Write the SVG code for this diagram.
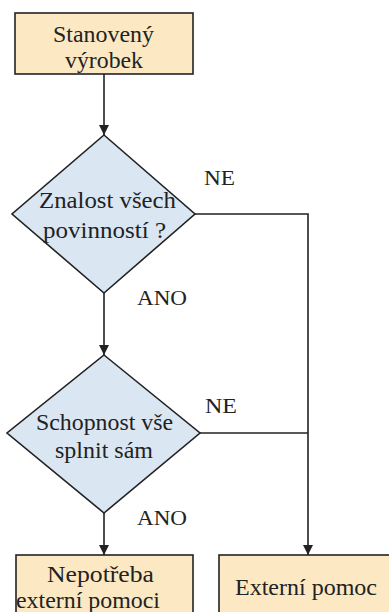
<svg xmlns="http://www.w3.org/2000/svg" width="389" height="612" viewBox="0 0 389 612">
  <style>
    .box { fill: #fce9c4; stroke: #222; stroke-width: 1.6; }
    .dec { fill: #dae6f2; stroke: #222; stroke-width: 1.6; }
    text { font-family: 'Liberation Serif', 'Times New Roman', 'DejaVu Serif', serif; fill: #222; }
    .lbl { font-size: 23px; text-anchor: middle; }
    .tag { font-size: 22px; }
    .flow { fill: none; stroke: #222; stroke-width: 1.6; }
  </style>
  <defs>
    <marker id="arrow" viewBox="0 0 10 10" refX="10" refY="5" markerWidth="10" markerHeight="10" markerUnits="userSpaceOnUse" orient="auto">
      <path d="M0,0 L10,5 L0,10 z" fill="#222"/>
    </marker>
  </defs>
  <rect width="389" height="612" fill="#fff"/>

  <g id="connectors">
    <line class="flow" x1="104" y1="74" x2="104" y2="135" marker-end="url(#arrow)"/>
    <line class="flow" x1="104" y1="293" x2="104" y2="355" marker-end="url(#arrow)"/>
    <line class="flow" x1="104" y1="513" x2="104" y2="555" marker-end="url(#arrow)"/>
    <polyline class="flow" points="195,214 308,214 308,555" marker-end="url(#arrow)"/>
    <line class="flow" x1="200" y1="433" x2="308" y2="433"/>
    <text class="tag" x="204" y="185" textLength="31" lengthAdjust="spacingAndGlyphs">NE</text>
    <text class="tag" x="137" y="305" textLength="50" lengthAdjust="spacingAndGlyphs">ANO</text>
    <text class="tag" x="205" y="413" textLength="32" lengthAdjust="spacingAndGlyphs">NE</text>
    <text class="tag" x="137" y="525" textLength="50" lengthAdjust="spacingAndGlyphs">ANO</text>
  </g>

  <g id="start">
    <rect class="box" x="15" y="13" width="178" height="61"/>
    <text class="lbl" x="103.5" y="42" textLength="101" lengthAdjust="spacingAndGlyphs">Stanovený</text>
    <text class="lbl" x="104" y="68" textLength="78" lengthAdjust="spacingAndGlyphs">výrobek</text>
  </g>

  <g id="decision-knowledge">
    <polygon class="dec" points="104,135 195,214 104,293 12,214"/>
    <text class="lbl" x="107.5" y="208" textLength="137" lengthAdjust="spacingAndGlyphs">Znalost všech</text>
    <text class="lbl" x="104.5" y="238" textLength="123" lengthAdjust="spacingAndGlyphs">povinností ?</text>
  </g>

  <g id="decision-ability">
    <polygon class="dec" points="104,355 200,433 104,513 7,433"/>
    <text class="lbl" x="104.5" y="430" textLength="137" lengthAdjust="spacingAndGlyphs">Schopnost vše</text>
    <text class="lbl" x="104" y="458" textLength="98" lengthAdjust="spacingAndGlyphs">splnit sám</text>
  </g>

  <g id="no-help">
    <rect class="box" x="16" y="555" width="177" height="70"/>
    <text class="lbl" x="100.5" y="582" textLength="107" lengthAdjust="spacingAndGlyphs">Nepotřeba</text>
    <text class="lbl" x="88" y="608" textLength="144" lengthAdjust="spacingAndGlyphs">externí pomoci</text>
  </g>

  <g id="external-help">
    <rect class="box" x="219" y="555" width="180" height="70"/>
    <text class="lbl" x="306" y="595" textLength="142" lengthAdjust="spacingAndGlyphs">Externí pomoc</text>
  </g>
</svg>
